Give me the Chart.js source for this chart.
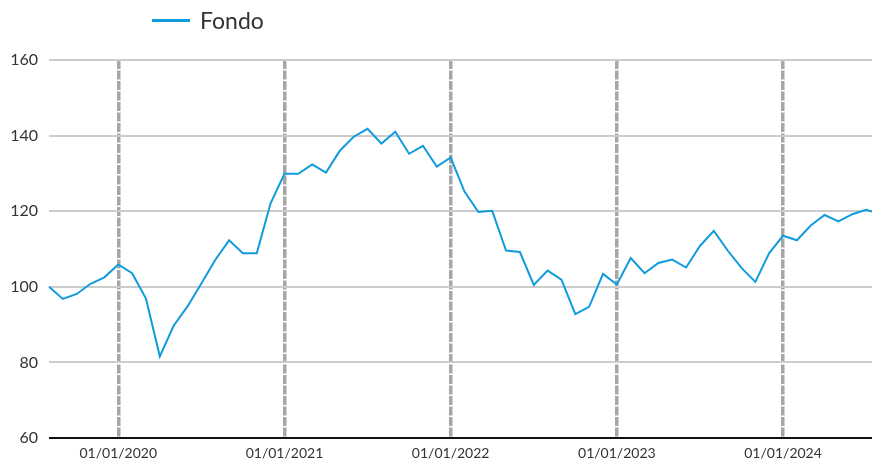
<!DOCTYPE html>
<html>
<head>
<meta charset="utf-8">
<script src="https://cdn.jsdelivr.net/npm/chart.js@4"></script>
<style>
  html, body { margin: 0; padding: 0; overflow: hidden; background: #fff; width: 872px; height: 463px; }
  #wrap { position: absolute; left: 0; top: 0; width: 887px; height: 463px; }
  #legend { position: absolute; left: 152px; top: 6px; display: flex; align-items: center; font-family: Lato, sans-serif; font-size: 23px; color: #333; z-index: 2; }
  #legend .swatch { width: 38px; height: 3px; background: #109cdc; margin-right: 10px; }
</style>
</head>
<body>
<div id="wrap"><canvas id="c" width="887" height="463"></canvas></div>
<div id="legend"><span class="swatch"></span><span id="legendText"></span></div>
<script>
// Monthly data, Aug 2019 to Aug 2024
const seriesName = "Fondo";
const startYear = 2019, startMonth = 8;
const fondoValues = [
  100.0, 96.8, 98.1, 100.8, 102.5, 105.9, 103.6, 96.9, 81.6, 89.7,
  94.8, 100.9, 107.1, 112.3, 108.9, 108.9, 122.1, 129.9, 129.9, 132.4,
  130.2, 136.0, 139.7, 141.8, 137.9, 141.0, 135.2, 137.3, 131.8, 134.2,
  125.2, 119.8, 120.1, 109.6, 109.2, 100.5, 104.3, 101.9, 92.8, 94.7,
  103.4, 100.6, 107.6, 103.6, 106.3, 107.2, 105.1, 110.8, 114.8, 109.6,
  105.0, 101.3, 108.9, 113.5, 112.3, 116.2, 119.0, 117.3, 119.2, 120.4,
  119.3
];
const yTicks = [60, 80, 100, 120, 140, 160];

const categories = fondoValues.map((_, i) => {
  const m0 = startMonth - 1 + i;
  const y = startYear + Math.floor(m0 / 12);
  const m = (m0 % 12) + 1;
  return "01/" + String(m).padStart(2, "0") + "/" + y;
});
const isYearStart = lbl => lbl.slice(3, 5) === "01";

document.getElementById("legendText").textContent = seriesName;

new Chart(document.getElementById("c"), {
  type: "line",
  data: {
    labels: categories,
    datasets: [{
      label: seriesName,
      data: fondoValues,
      borderColor: "#109cdc",
      borderWidth: 2,
      pointRadius: 0,
      tension: 0,
      fill: false
    }]
  },
  options: {
    responsive: false,
    animation: false,
    events: [],
    layout: { padding: { top: 60, left: 0, right: 0, bottom: 0 } },
    plugins: { legend: { display: false }, tooltip: { enabled: false } },
    scales: {
      x: {
        type: "category",
        offset: false,
        afterFit: s => { s.height = 25; },
        border: { display: false, dash: [9, 1.5] },
        grid: {
          drawTicks: false,
          lineWidth: 3.5,
          color: ctx => (ctx.tick && isYearStart(categories[ctx.tick.value])) ? "#a6a6a6" : "rgba(0,0,0,0)"
        },
        ticks: {
          autoSkip: false,
          maxRotation: 0,
          padding: 7,
          color: "#333",
          font: { family: "Lato", size: 14 },
          callback: function(value) { const l = categories[value]; return isYearStart(l) ? l : ""; }
        }
      },
      y: {
        min: 60,
        max: 160,
        afterFit: s => { s.width = 49; },
        afterBuildTicks: s => { s.ticks = yTicks.map(v => ({ value: v })); },
        border: { display: false },
        grid: {
          drawTicks: false,
          lineWidth: 2,
          color: ctx => (ctx.tick && ctx.tick.value === 60) ? "#111" : "#cccccc"
        },
        ticks: {
          padding: 11,
          color: "#333",
          font: { family: "Lato", size: 16 }
        }
      }
    }
  }
});
</script>
</body>
</html>
